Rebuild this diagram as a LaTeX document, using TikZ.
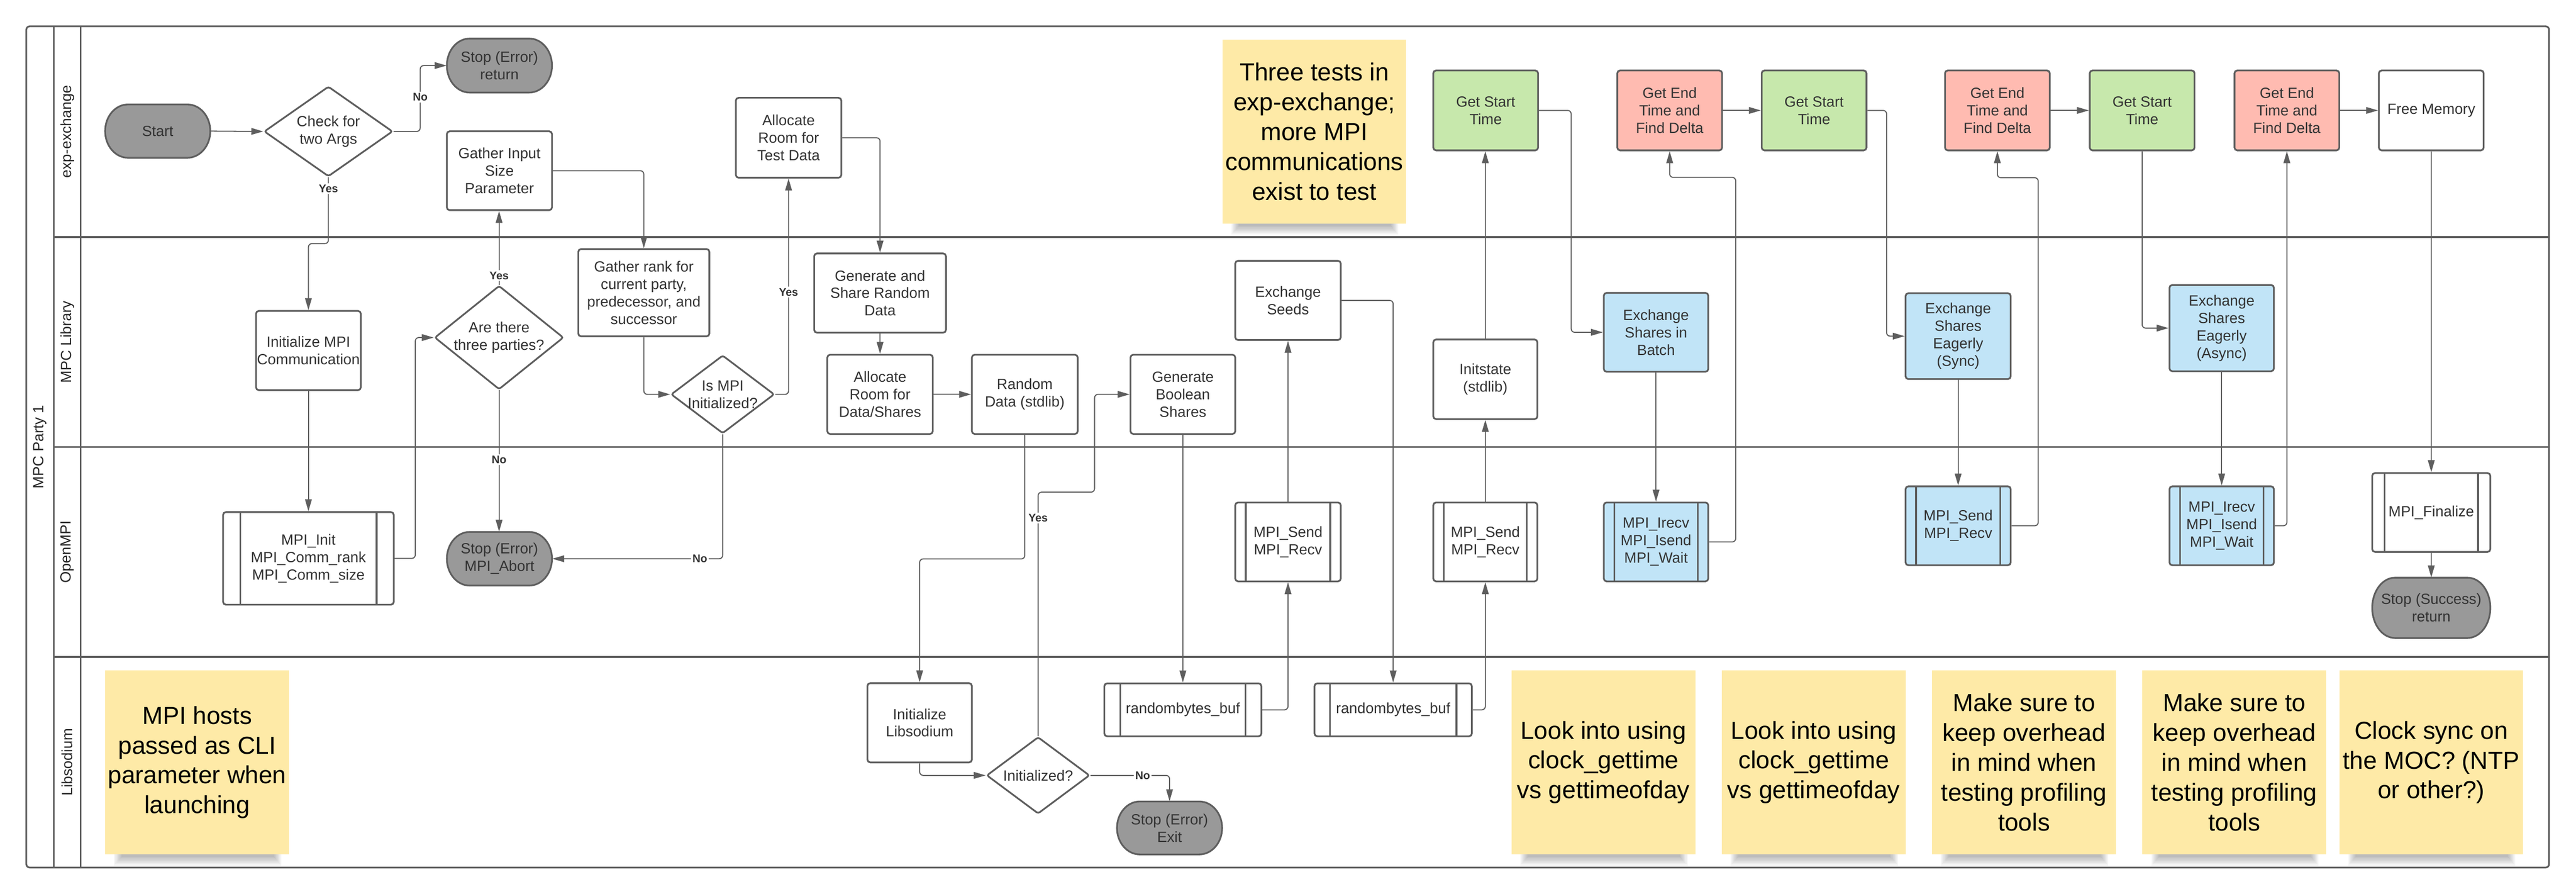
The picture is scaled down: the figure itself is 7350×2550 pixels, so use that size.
\documentclass[tikz,border=0pt]{standalone}
\usepackage{fontspec}
\setmainfont{Liberation Sans}
\usetikzlibrary{shapes.geometric,arrows.meta,calc}
\definecolor{lc}{HTML}{5E5E5E}
\definecolor{tc}{HTML}{333333}
\definecolor{termfill}{HTML}{999999}
\definecolor{gfill}{HTML}{C7E8AC}
\definecolor{rfill}{HTML}{FFBBB1}
\definecolor{bfill}{HTML}{C1E4F7}
\definecolor{nfill}{HTML}{FEEAA7}
\newcommand\nodefont{\fontsize{12pt}{14.2pt}\selectfont}
\newcommand\notefont{\fontsize{20pt}{24.2pt}\selectfont}
\tikzset{
  frame/.style={draw=lc, line width=1.4pt},
  box/.style={rectangle, rounded corners=0.08cm, draw=lc, line width=1.4pt, fill=white,
    align=center, font=\nodefont, text=tc, inner sep=0pt},
  sz/.style 2 args={minimum width=#1*0.01cm, minimum height=#2*0.01cm},
  gbox/.style={box, fill=gfill},
  rbox/.style={box, fill=rfill},
  bbox/.style={box, fill=bfill},
  subp/.style={box, path picture={
      \draw[lc, line width=1.4pt] ([xshift=#1]path picture bounding box.north west) -- ([xshift=#1]path picture bounding box.south west);
      \draw[lc, line width=1.4pt] ([xshift=-#1]path picture bounding box.north east) -- ([xshift=-#1]path picture bounding box.south east);}},
  dia/.style={diamond, draw=lc, line width=1.4pt, fill=white, rounded corners=0.06cm, inner sep=0pt},
  term/.style={draw=lc, line width=1.4pt, fill=termfill},
  ttext/.style={rectangle, inner sep=0pt, align=center, font=\nodefont, text=tc},
  note/.style={rectangle, fill=nfill, inner sep=0pt, align=center, font=\notefont, text=black,
    minimum width=5.24cm, minimum height=5.24cm},
  conn/.style={draw=lc, line width=0.85pt, rounded corners=0.1cm, -{Triangle[length=0.34cm,width=0.19cm]}},
  lbl/.style={font=\bfseries\fontsize{9pt}{10pt}\selectfont, text=tc, fill=white, inner sep=1.2pt},
  lanelbl/.style={font=\fontsize{12pt}{14pt}\selectfont, text=black!85, rotate=90}
}
% name, cx, cy, w, h, text
\newcommand\termnode[6]{%
  \path[term] ({#2-#4/2+65},{#3-#5/2}) -- ({#2+#4/2-65},{#3-#5/2})
    arc[start angle=-90, end angle=90, x radius=65, y radius={#5/2}]
    -- ({#2-#4/2+65},{#3+#5/2})
    arc[start angle=90, end angle=270, x radius=65, y radius={#5/2}] -- cycle;
  \node[ttext, sz={#4}{#5}] (#1) at (#2,#3) {#6};}
\newcommand\dianode[6]{%
  \node[dia, sz={#4}{#5}] (#1) at (#2,#3) {};
  \node[ttext] at (#1.center) {#6};}
% cx, cy
\newcommand\noteshadow[2]{%
  \foreach \k in {0,...,7}{%
    \fill[black, opacity=0.035] ({#1-262+25+\k*3},{#2+262-5}) rectangle ({#1+262-22-\k*3},{#2+262+32-\k*3.5});}}
\begin{document}
\begin{tikzpicture}[x=0.01cm, y=-0.01cm]
\useasboundingbox (0,0) rectangle (7350,2550);
\fill[white] (0,0) rectangle (7350,2550);

% ---------- pool and lanes ----------
\draw[frame, rounded corners=0.1cm] (75,75) rectangle (7273,2475);
\draw[frame] (154,75) -- (154,2475);
\draw[frame] (230,75) -- (230,2475);
\draw[frame] (154,676) -- (7273,676);
\draw[frame] (154,1275) -- (7273,1275);
\draw[frame] (154,1874) -- (7273,1874);
\node[lanelbl] (pool) at (114.5,1275) {MPC Party 1};
\node[lanelbl] (lane1) at (192,375.5) {exp-exchange};
\node[lanelbl] (lane2) at (192,975.5) {MPC Library};
\node[lanelbl] (lane3) at (192,1574.5) {OpenMPI};
\node[lanelbl] (lane4) at (192,2174.5) {Libsodium};

% ---------- notes ----------
\noteshadow{3750}{375.5}
\noteshadow{562.5}{2175}
\noteshadow{4575}{2175}
\noteshadow{5175}{2175}
\noteshadow{5775}{2175}
\noteshadow{6375}{2175}
\noteshadow{6937}{2175}
\node[note] (n1) at (3750,375.5) {Three tests in\\exp-exchange;\\more MPI\\communications\\exist to test};
\node[note] (n2) at (562.5,2175) {MPI hosts\\passed as CLI\\parameter when\\launching};
\node[note] (n3) at (4575,2175) {Look into using\\clock\_gettime\\vs gettimeofday};
\node[note] (n4) at (5175,2175) {Look into using\\clock\_gettime\\vs gettimeofday};
\node[note] (n5) at (5775,2175) {Make sure to\\keep overhead\\in mind when\\testing profiling\\tools};
\node[note] (n6) at (6375,2175) {Make sure to\\keep overhead\\in mind when\\testing profiling\\tools};
\node[note] (n7) at (6937,2175) {Clock sync on\\the MOC? (NTP\\or other?)};

% ---------- exp-exchange lane ----------
\termnode{start}{450}{374}{300}{152}{Start}
\termnode{stop1}{1425}{187}{300}{154}{Stop (Error)\\return}
\dianode{check}{937}{375}{367}{257}{Check for\\two Args}
\node[box, sz={300}{225}] (gatherin) at (1425,487) {Gather Input\\Size\\Parameter};
\node[box, sz={301}{228}] (alloctest) at (2250,393) {Allocate\\Room for\\Test Data};
\node[gbox, sz={299}{228}] (gst1) at (4239,315) {Get Start\\Time};
\node[rbox, sz={299}{228}] (get1) at (4764,315) {Get End\\Time and\\Find Delta};
\node[gbox, sz={299}{228}] (gst2) at (5176,315) {Get Start\\Time};
\node[rbox, sz={299}{228}] (get2) at (5699,315) {Get End\\Time and\\Find Delta};
\node[gbox, sz={299}{228}] (gst3) at (6112,315) {Get Start\\Time};
\node[rbox, sz={299}{228}] (get3) at (6525,315) {Get End\\Time and\\Find Delta};
\node[box, sz={299}{228}] (free) at (6937,315) {Free Memory};

% ---------- MPC Library lane ----------
\node[box, sz={299}{226}] (initmpi) at (880,1000) {Initialize MPI\\Communication};
\dianode{three}{1424}{963}{368}{296}{Are there\\three parties?}
\node[box, sz={374}{249}] (gatherrank) at (1837,835) {Gather rank for\\current party,\\predecessor, and\\successor};
\dianode{ismpi}{2062}{1125}{295}{223}{Is MPI\\Initialized?}
\node[box, sz={376}{226}] (generate) at (2511,836) {Generate and\\Share Random\\Data};
\node[box, sz={301}{226}] (allocds) at (2511,1125) {Allocate\\Room for\\Data/Shares};
\node[box, sz={302}{226}] (randdata) at (2924,1125) {Random\\Data (stdlib)};
\node[box, sz={299}{226}] (genbool) at (3375,1125) {Generate\\Boolean\\Shares};
\node[box, sz={301}{226}] (seeds) at (3675,857) {Exchange\\Seeds};
\node[box, sz={297}{227}] (initstate) at (4238,1082) {Initstate\\(stdlib)};
\node[bbox, sz={298}{225}] (batch) at (4725,948) {Exchange\\Shares in\\Batch};
\node[bbox, sz={300}{245}] (sync) at (5587,959) {Exchange\\Shares\\Eagerly\\(Sync)};
\node[bbox, sz={298}{246}] (async) at (6339,936) {Exchange\\Shares\\Eagerly\\(Async)};

% ---------- OpenMPI lane ----------
\node[subp=0.49cm, sz={487}{264}] (mpiinit) at (880,1593) {MPI\_Init\\MPI\_Comm\_rank\\MPI\_Comm\_size};
\termnode{abort}{1425}{1594}{300}{153}{Stop (Error)\\MPI\_Abort}
\node[subp=0.3cm, sz={301}{225}] (send1) at (3675,1546) {MPI\_Send\\MPI\_Recv};
\node[subp=0.3cm, sz={297}{225}] (send2) at (4238,1546) {MPI\_Send\\MPI\_Recv};
\node[subp=0.3cm, fill=bfill, sz={298}{225}] (irecv1) at (4725,1546) {MPI\_Irecv\\MPI\_Isend\\MPI\_Wait};
\node[subp=0.3cm, fill=bfill, sz={300}{225}] (send3) at (5587,1500) {MPI\_Send\\MPI\_Recv};
\node[subp=0.3cm, fill=bfill, sz={298}{225}] (irecv2) at (6339,1500) {MPI\_Irecv\\MPI\_Isend\\MPI\_Wait};
\node[subp=0.35cm, sz={337}{225}] (finalize) at (6937,1462) {MPI\_Finalize};
\termnode{stopsucc}{6937}{1734}{337}{172}{Stop (Success)\\return}

% ---------- Libsodium lane ----------
\node[box, sz={298}{226}] (initsodium) at (2624,2062) {Initialize\\Libsodium};
\dianode{initialized}{2962}{2212}{294}{219}{Initialized?}
\termnode{stopexit}{3337}{2362}{300}{151}{Stop (Error)\\Exit}
\node[subp=0.45cm, sz={448}{151}] (rb1) at (3375,2025) {randombytes\_buf};
\node[subp=0.44cm, sz={449}{151}] (rb2) at (3975,2025) {randombytes\_buf};

% ---------- connectors ----------
\draw[conn] (start.east) -- (check.west);
\draw[conn] (check.east) -- ++(76,0) |- node[lbl, pos=0.26]{No} (stop1.west);
\draw[conn] (check.south) -- node[lbl, pos=0.17]{Yes} ++(0,189) -| (initmpi.north);
\draw[conn] (initmpi.south) -- (initmpi.south |- mpiinit.north);
\draw[conn] (mpiinit.east) -- ++(59,0) |- (three.west);
\draw[conn] (three.north) -- node[lbl, pos=0.125]{Yes} (three.north |- gatherin.south);
\draw[conn] (three.south) -- node[lbl, pos=0.49]{No} (three.south |- abort.north);
\draw[conn] (gatherin.east) -| (gatherrank.north);
\draw[conn] (gatherrank.south) |- (ismpi.west);
\draw[conn] (ismpi.east) -| node[lbl, pos=0.737]{Yes} (alloctest.south);
\draw[conn] (ismpi.south) |- node[lbl, pos=0.567]{No} (abort.east);
\draw[conn] (alloctest.east) -| (generate.north);
\draw[conn] (generate.south) -- (generate.south |- allocds.north);
\draw[conn] (allocds.east) -- (allocds.east -| randdata.west);
\draw[conn] (randdata.south) -- ++(0,354) -| (initsodium.north);
\draw[conn] (initsodium.south) |- (initialized.west);
\draw[conn] (initialized.east) -| node[lbl, pos=0.33]{No} (stopexit.north);
\draw[conn] (initialized.north) -- node[lbl, pos=0.894]{Yes} ++(0,-696) -- ++(161,0) |- (genbool.west);
\draw[conn] (genbool.south) -- (genbool.south |- rb1.north);
\draw[conn] (rb1.east) -| (send1.south);
\draw[conn] (send1.north) -- (send1.north |- seeds.south);
\draw[conn] (seeds.east) -| (rb2.north);
\draw[conn] (rb2.east) -| (send2.south);
\draw[conn] (send2.north) -- (send2.north |- initstate.south);
\draw[conn] (initstate.north) -- (initstate.north |- gst1.south);
\draw[conn] (gst1.east) -- ++(92,0) |- (batch.west);
\draw[conn] (batch.south) -- (batch.south |- irecv1.north);
\draw[conn] (irecv1.east) -- ++(76,0) -- ++(0,-1040) -| (get1.south);
\draw[conn] (get1.east) -- (gst2.west);
\draw[conn] (gst2.east) -- ++(55,0) |- (sync.west);
\draw[conn] (sync.south) -- (sync.south |- send3.north);
\draw[conn] (send3.east) -- ++(76,0) -- ++(0,-993) -| (get2.south);
\draw[conn] (get2.east) -- (gst3.west);
\draw[conn] (gst3.south) |- (async.west);
\draw[conn] (async.south) -- (async.south |- irecv2.north);
\draw[conn] (irecv2.east) -| (get3.south);
\draw[conn] (get3.east) -- (free.west);
\draw[conn] (free.south) -- (free.south |- finalize.north);
\draw[conn] (finalize.south) -- (finalize.south |- stopsucc.north);
\end{tikzpicture}
\end{document}
